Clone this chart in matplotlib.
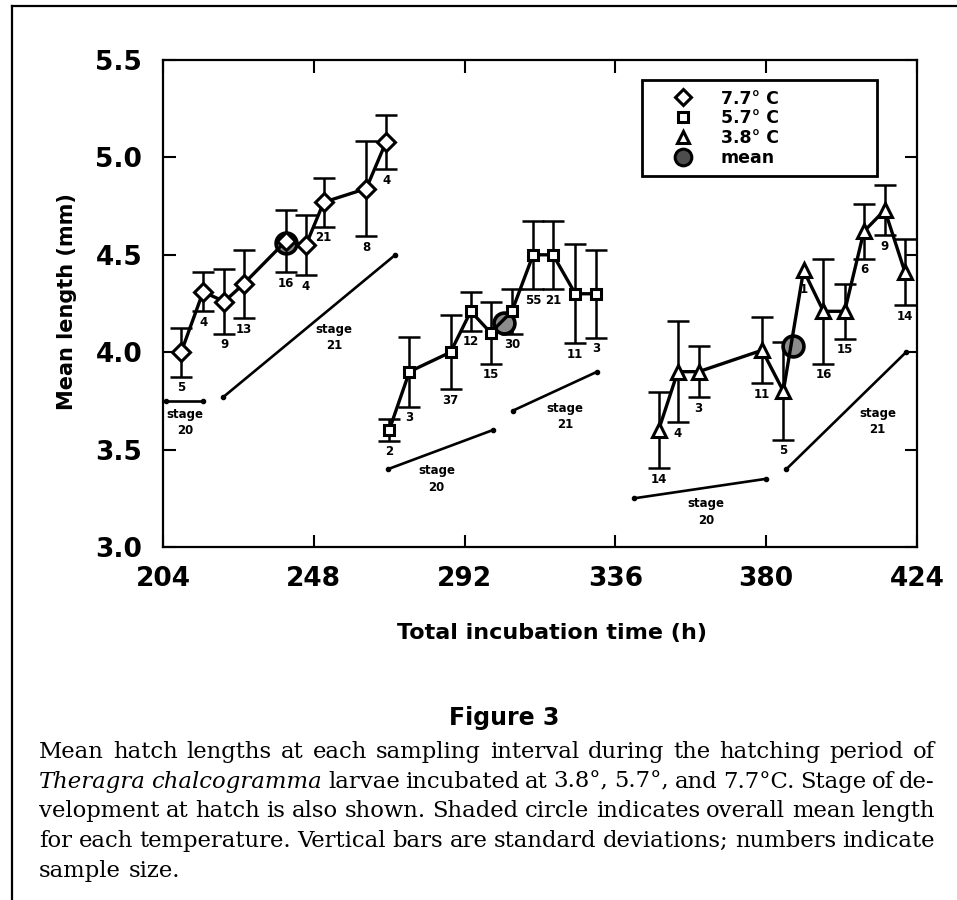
import matplotlib
matplotlib.use("Agg")
import matplotlib.pyplot as plt
from matplotlib.lines import Line2D

# hatch length data (time in h, length in mm)
t_77 = [209.3, 215.7, 221.9, 227.5, 239.8, 245.7, 250.9, 263.3, 269.1]
len_77 = [4.00, 4.31, 4.26, 4.35, 4.57, 4.55, 4.77, 4.84, 5.08]
sd_77 = [0.125, 0.10, 0.165, 0.175, 0.16, 0.155, 0.125, 0.245, 0.14]
n_77 = [5, 4, 9, 13, 16, 4, 21, 8, 4]

t_57 = [270.0, 275.9, 287.9, 293.8, 299.6, 305.8, 312.0, 317.8, 324.3, 330.4]
len_57 = [3.60, 3.90, 4.00, 4.21, 4.10, 4.21, 4.50, 4.50, 4.30, 4.30]
sd_57 = [0.055, 0.18, 0.19, 0.10, 0.16, 0.115, 0.175, 0.175, 0.255, 0.225]
n_57 = [2, 3, 37, 12, 15, 30, 55, 21, 11, 3]

t_38 = [348.6, 354.2, 360.3, 378.8, 385.0, 390.9, 396.7, 402.9, 408.5, 414.6, 420.5]
len_38 = [3.60, 3.90, 3.90, 4.01, 3.80, 4.42, 4.21, 4.21, 4.62, 4.73, 4.41]
sd_38 = [0.195, 0.26, 0.13, 0.17, 0.25, 0.0, 0.27, 0.14, 0.14, 0.13, 0.17]
n_38 = [14, 4, 3, 11, 5, 1, 16, 15, 6, 9, 14]

# overall mean per temperature
mean_t = [239.8, 303.4, 387.9]
mean_len = [4.56, 4.15, 4.03]

# stage at hatch lines (start/end time, start/end length)
stage_names = ["20", "21", "20", "21", "20", "21"]
stage_t = [[205.0, 215.7], [221.6, 271.8], [269.7, 300.2], [306.1, 330.7],
           [341.5, 380.0], [385.9, 420.8]]
stage_len = [[3.75, 3.75], [3.77, 4.50], [3.40, 3.60], [3.70, 3.90],
             [3.25, 3.35], [3.40, 4.00]]
stage_text_pos = [(210.5, 3.64), (254.0, 4.075), (283.8, 3.35), (321.3, 3.67),
                  (362.4, 3.18), (412.5, 3.645)]

xticks = [204, 248, 292, 336, 380, 424]
yticks = [3.0, 3.5, 4.0, 4.5, 5.0, 5.5]

caption = [
    [("Mean hatch lengths at each sampling interval during the hatching period of", "normal")],
    [("Theragra chalcogramma", "italic"),
     ("larvae incubated at 3.8°, 5.7°, and 7.7°C. Stage of de-", "normal")],
    [("velopment at hatch is also shown. Shaded circle indicates overall mean length", "normal")],
    [("for each temperature.  Vertical bars are standard deviations; numbers indicate", "normal")],
    [("sample size.", "normal")],
]

plt.rcParams['font.family'] = 'DejaVu Sans'
plt.rcParams['font.weight'] = 'bold'
plt.rcParams['axes.labelweight'] = 'bold'

W, H = 957, 900
fig = plt.figure(figsize=(W / 100, H / 100), dpi=100)
ax = fig.add_axes([163 / W, 1 - 547 / H, 754 / W, 487 / H])

series = [(t_77, len_77, sd_77, n_77, 'D', 9),
          (t_57, len_57, sd_57, n_57, 's', 7.5),
          (t_38, len_38, sd_38, n_38, '^', 10)]

for t, L, sd, n, mk, ms in series:
    et = [a for a, s in zip(t, sd) if s > 0]
    el = [b for b, s in zip(L, sd) if s > 0]
    es = [s for s in sd if s > 0]
    ax.errorbar(et, el, yerr=es, fmt='none', ecolor='k', elinewidth=1.8,
                capsize=8, capthick=1.8, zorder=2)
    ax.plot(t, L, '-', color='k', lw=2.4, marker=mk, ms=ms, mfc='white',
            mec='k', mew=2.2, zorder=4)
    for a, b, s, k in zip(t, L, sd, n):
        dy = -8 if s > 0 else -14
        ax.annotate(str(k), xy=(a, b - s), xytext=(0, dy), textcoords='offset points',
                    ha='center', va='center', fontsize=8.5, fontweight='bold')

ax.plot(mean_t, mean_len, 'o', ls='none', ms=15, mfc='0.55', mec='k', mew=2.6, zorder=3)

for name, st, sl, pos in zip(stage_names, stage_t, stage_len, stage_text_pos):
    ax.plot(st, sl, '-', color='k', lw=1.9, marker='o', ms=3, zorder=2)
    ax.text(pos[0], pos[1], "stage\n" + name, ha='center', va='center',
            fontsize=8.5, fontweight='bold', linespacing=1.35)

ax.set_xlim(204, 424)
ax.set_ylim(3.0, 5.5)
ax.set_xticks(xticks)
ax.set_yticks(yticks)
ax.set_yticklabels([f"{v:.1f}" for v in yticks])
ax.tick_params(direction='in', length=9, width=1.5, top=True, right=True,
               labelsize=19)
ax.tick_params(axis='x', pad=14)
ax.tick_params(axis='y', pad=15)
for sp in ax.spines.values():
    sp.set_linewidth(1.6)

ax.set_xlabel("Total incubation time (h)", fontsize=16, fontweight='bold')
ax.xaxis.label.set_va('center')
ax.xaxis.set_label_coords(0.516, -0.177)
ax.set_ylabel("Mean length (mm)", fontsize=15, fontweight='bold')
ax.yaxis.label.set_va('center')
ax.yaxis.set_label_coords(-0.127, 0.503)

handles = [
    Line2D([], [], ls='none', marker='D', ms=8.5, mfc='white', mec='k', mew=2.2),
    Line2D([], [], ls='none', marker='s', ms=7.5, mfc='white', mec='k', mew=2.2),
    Line2D([], [], ls='none', marker='^', ms=9, mfc='white', mec='k', mew=2.2),
    Line2D([], [], ls='none', marker='o', ms=12, mfc='0.3', mec='k', mew=2.2),
]
labels = ["7.7° C", "5.7° C", "3.8° C", "mean"]
leg = ax.legend(handles, labels, loc='upper left',
                bbox_to_anchor=(0.635, 0.768, 0.312, 0.191), mode='expand',
                borderaxespad=0, frameon=True, fancybox=False, framealpha=1,
                edgecolor='k', handlelength=3.6, handletextpad=0.4,
                borderpad=0.55, labelspacing=0.1,
                prop={'weight': 'bold', 'size': 12.5})
leg.get_frame().set_linewidth(2)

# outer frame of the printed figure (top and left only)
fig.add_artist(Line2D([12 / W, 1], [1 - 6 / H, 1 - 6 / H], color='k', lw=1.6,
                      transform=fig.transFigure))
fig.add_artist(Line2D([12 / W, 12 / W], [1 - 6 / H, 0], color='k', lw=1.6,
                      transform=fig.transFigure))

fig.text(504 / W, 1 - 718 / H, "Figure 3", ha='center', va='center',
         fontsize=17, fontweight='bold', family='DejaVu Sans')

# caption, justified between x0 and x1
x0, x1 = 39, 935
base0, step = 758, 29.7
fig.canvas.draw()
rend = fig.canvas.get_renderer()


def split_words(line):
    words = []
    for chunk, style in line:
        for w in chunk.split(" "):
            if w:
                words.append((w, style))
    return words


def word_widths(words, size):
    out = []
    for w, style in words:
        tx = fig.text(0, 0, w, fontsize=size, family='DejaVu Serif', style=style,
                      fontweight='normal')
        out.append(tx.get_window_extent(renderer=rend).width)
        tx.remove()
    return out


# pick the caption size so the longest line just fills the column
s0 = 12.0
space_frac = 0.25
natural = []
for line in caption[:-1]:
    ws = split_words(line)
    wd = word_widths(ws, s0)
    natural.append(sum(wd) + (len(ws) - 1) * space_frac * s0 * 100 / 72)
cap_size = s0 * (x1 - x0 - 2) / max(natural)

for i, line in enumerate(caption):
    words = split_words(line)
    y = 1 - (base0 + i * step) / H
    objs = [fig.text(0, y, w, ha='left', va='baseline', fontsize=cap_size,
                     family='DejaVu Serif', style=style, fontweight='normal')
            for w, style in words]
    widths = [o.get_window_extent(renderer=rend).width for o in objs]
    if i == len(caption) - 1:
        gap = space_frac * cap_size * 100 / 72 * 1.3
    else:
        gap = (x1 - x0 - sum(widths)) / (len(objs) - 1)
    xpos = x0
    for o, wd in zip(objs, widths):
        o.set_x(xpos / W)
        xpos += wd + gap

fig.savefig("out.png", dpi=100)
